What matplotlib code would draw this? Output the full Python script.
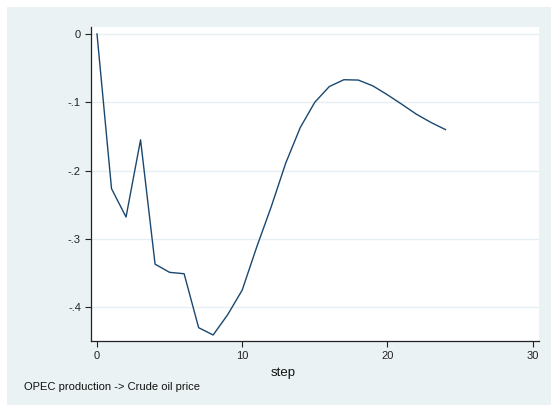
import matplotlib
matplotlib.use("Agg")
import matplotlib.pyplot as plt
from matplotlib.patches import Rectangle

# impulse response values
steps = list(range(25))
response = [0.0, -0.2265, -0.268, -0.155, -0.337, -0.349, -0.351, -0.430, -0.4407,
            -0.411, -0.375, -0.312, -0.253, -0.189, -0.137, -0.100, -0.077, -0.067,
            -0.0675, -0.076, -0.089, -0.103, -0.1175, -0.1295, -0.140]
x_ticks = [0, 10, 20, 30]
y_ticks = [0, -0.1, -0.2, -0.3, -0.4]
y_tick_labels = ["0", "-.1", "-.2", "-.3", "-.4"]

W, H = 551, 405
plt.rcParams["font.family"] = ["Liberation Sans", "DejaVu Sans"]

fig = plt.figure(figsize=(W / 100, H / 100), dpi=100)
fig.patch.set_facecolor("white")
fig.patches.append(Rectangle((7 / W, 0), 1, (H - 7) / H, transform=fig.transFigure,
                             facecolor="#eaf2f3", edgecolor="none", zorder=-10))

ax = fig.add_axes([90.7 / W, (H - 341) / H, (538.8 - 90.7) / W, (341 - 27) / H])
ax.set_facecolor("white")

ax.plot(steps, response, color="#1a476f", lw=1.0)

ax.set_xlim(-0.434, 30.43)
ax.set_ylim(-0.4495, 0.0102)
ax.set_xticks(x_ticks)
ax.set_yticks(y_ticks)
ax.set_yticklabels(y_tick_labels)
ax.grid(axis="y", color="#e6eff1", lw=1.0)
ax.set_axisbelow(True)

for s in ["top", "right"]:
    ax.spines[s].set_visible(False)
for s in ["left", "bottom"]:
    ax.spines[s].set_color("#222222")
    ax.spines[s].set_linewidth(0.9)

ax.tick_params(direction="out", length=4, width=0.8, color="#222222",
               labelsize=8, pad=3, labelcolor="#222222")

fig.text(283 / W, 1 - 372.7 / H, "step", ha="center", va="center", fontsize=9.5,
         color="#111111")
fig.text(24 / W, 1 - 387 / H, "OPEC production -> Crude oil price",
         ha="left", va="center", fontsize=8, color="#111111")

fig.savefig("out.png", dpi=100)
